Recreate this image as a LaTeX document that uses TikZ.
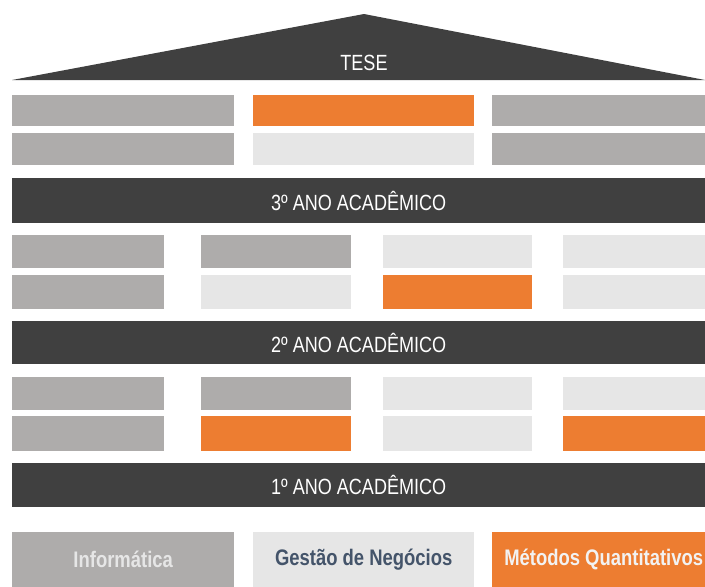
\documentclass[tikz,border=0pt]{standalone}
\usepackage{fontspec}
\setmainfont{Liberation Sans}
\newfontfamily\barfont{Liberation Sans}[FakeStretch=0.82]
\newfontfamily\keyfont{Liberation Sans}[FakeStretch=0.82,BoldFont={Liberation Sans Bold}]
\definecolor{roofdark}{HTML}{404040}
\definecolor{infgray}{HTML}{AEACAB}
\definecolor{gestlight}{HTML}{E6E6E6}
\definecolor{metorange}{HTML}{ED7D31}
\definecolor{gesttext}{HTML}{44546A}
\tikzstyle{cell} = [rectangle,anchor=north west,inner sep=0pt,draw=none]
\tikzstyle{inf} = [cell,fill=infgray]
\tikzstyle{gest} = [cell,fill=gestlight]
\tikzstyle{met} = [cell,fill=metorange]
\tikzstyle{yearbar} = [cell,fill=roofdark,minimum width=693pt]
\tikzstyle{bartext} = [text=white,font=\barfont\fontsize{22}{24}\selectfont]
\tikzstyle{keybox} = [cell,minimum height=55pt]
\tikzstyle{keytext} = [font=\keyfont\bfseries\fontsize{22.5}{24}\selectfont]
\begin{document}
\begin{tikzpicture}[x=1pt,y=-1pt]
    \useasboundingbox (0,0) rectangle (705,587);

    % Roof
    \fill[roofdark] (12,80) -- (364,14) -- (705,80) -- cycle;
    \node[bartext] (tese) at (364,63) {TESE};

    % Thesis rows
    \foreach \x/\w/\c [count=\i] in {12/222/inf,253/221/met,492/213/inf}
        \node[\c,minimum width=\w pt,minimum height=31pt] (ta\i) at (\x,95) {};
    \foreach \x/\w/\c [count=\i] in {12/222/inf,253/221/gest,492/213/inf}
        \node[\c,minimum width=\w pt,minimum height=32pt] (tb\i) at (\x,133) {};

    % Year bars
    \node[yearbar,minimum height=45pt] (y3) at (12,178) {};
    \node[bartext] (y3t) at (y3.center) {3º ANO ACADÊMICO};
    \node[yearbar,minimum height=43pt] (y2) at (12,321) {};
    \node[bartext] (y2t) at (y2.center) {2º ANO ACADÊMICO};
    \node[yearbar,minimum height=44pt] (y1) at (12,463) {};
    \node[bartext] (y1t) at (y1.center) {1º ANO ACADÊMICO};

    % Third year rows
    \foreach \x/\w/\c [count=\i] in {12/152/inf,201/150/inf,383/149/gest,563/142/gest}
        \node[\c,minimum width=\w pt,minimum height=33pt] (ca\i) at (\x,235) {};
    \foreach \x/\w/\c [count=\i] in {12/152/inf,201/150/gest,383/149/met,563/142/gest}
        \node[\c,minimum width=\w pt,minimum height=34pt] (cb\i) at (\x,275) {};

    % Second year rows
    \foreach \x/\w/\c [count=\i] in {12/152/inf,201/150/inf,383/149/gest,563/142/gest}
        \node[\c,minimum width=\w pt,minimum height=33pt] (ba\i) at (\x,377) {};
    \foreach \x/\w/\c [count=\i] in {12/152/inf,201/150/met,383/149/gest,563/142/met}
        \node[\c,minimum width=\w pt,minimum height=35pt] (bb\i) at (\x,416) {};

    % Legend
    \node[keybox,fill=infgray,minimum width=222pt] (kinf) at (12,532) {};
    \node[keybox,fill=gestlight,minimum width=221pt] (kgest) at (253,532) {};
    \node[keybox,fill=metorange,minimum width=213pt] (kmet) at (492,532) {};
    \node[keytext,text=gestlight] (kinft) at (kinf.center) {Informática};
    \node[keytext,text=gesttext] (kgestt) at (kgest.center) {Gestão de Negócios};
    \node[keytext,text=white!95!black] (kmett) at ([xshift=5pt]kmet.center) {Métodos Quantitativos};
\end{tikzpicture}
\end{document}
